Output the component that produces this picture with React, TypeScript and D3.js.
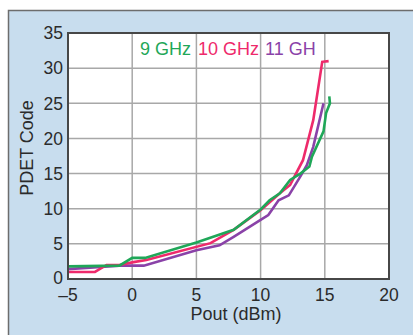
import React from "react";
import * as d3 from "d3";

const xTicks = [-5, 0, 5, 10, 15, 20];
const xTickLabels = ["–5", "0", "5", "10", "15", "20"];
const yTicks = [0, 5, 10, 15, 20, 25, 30, 35];

const series9x = [-5, -1, 0, 1, 5, 7.9, 10, 10.7, 11.5, 12.3, 13.1, 13.8, 14.0, 14.9, 15.1, 15.4, 15.35];
const series9y = [1.8, 1.9, 3, 3, 5.2, 7, 9.9, 11.2, 12.2, 14.1, 15, 16, 17.4, 21, 23.6, 25, 26];

const series10x = [-5, -2.9, -2, -1, 0.1, 1.1, 6.1, 7.9, 10, 11.5, 12.3, 13.3, 14.1, 14.8, 15.3];
const series10y = [1, 1, 2, 2, 2.4, 2.7, 5.1, 7, 9.8, 12.2, 13.4, 16.9, 22.6, 30.9, 31];

const series11x = [-5, -1, 0.9, 5, 6.8, 7.9, 10, 10.6, 11.4, 12.2, 13.1, 13.6, 14.1, 14.9];
const series11y = [1.4, 1.9, 1.9, 4.1, 4.8, 6, 8.4, 9.1, 11.2, 11.9, 14.6, 16.2, 18.8, 25];

const seriesNames = ["9 GHz", "10 GHz", "11 GH"];
const seriesColors = ["#1fa758", "#ee2a6b", "#8a42a8"];

export default function App() {
  const W = 413, H = 335;
  const left = 68, right = 389, top = 33, bottom = 279;
  const x = d3.scaleLinear().domain([-5, 20]).range([left, right]);
  const y = d3.scaleLinear().domain([0, 35]).range([bottom, top]);
  const line = d3.line<[number, number]>().x(d => x(d[0])).y(d => y(d[1]));
  const data = [
    d3.zip(series9x, series9y) as [number, number][],
    d3.zip(series10x, series10y) as [number, number][],
    d3.zip(series11x, series11y) as [number, number][],
  ];
  const font = "Arial, 'Liberation Sans', Helvetica, sans-serif";
  const order = [2, 1, 0];
  const legendX = [140, 198, 265];
  return (
    <svg width={W} height={H} style={{ position: "absolute", left: 0, top: 0, display: "block" }} fontFamily={font}>
      <rect x={0} y={0} width={W} height={H} fill="#ffffff" />
      <rect x={8.5} y={10.5} width={W} height={H} fill="#c8ddee" stroke="#6d6d6d" strokeWidth={1.5} />
      <rect x={left} y={top} width={right - left} height={bottom - top} fill="#ffffff" />
      {xTicks.slice(1, -1).map(t => (
        <line key={"gx" + t} x1={x(t)} x2={x(t)} y1={top} y2={bottom} stroke="#a8a8a8" strokeWidth={1.5} />
      ))}
      {yTicks.slice(1, -1).map(t => (
        <line key={"gy" + t} x1={left} x2={right} y1={y(t)} y2={y(t)} stroke="#a8a8a8" strokeWidth={1.5} />
      ))}
      {order.map(i => (
        <path key={"s" + i} d={line(data[i]) || ""} fill="none" stroke={seriesColors[i]} strokeWidth={2.6} strokeLinejoin="miter" />
      ))}
      <rect x={left} y={top} width={right - left} height={bottom - top} fill="none" stroke="#474747" strokeWidth={2} />
      {yTicks.map(t => (
        <text key={"yt" + t} x={63} y={y(t) - (t === 0 ? 1.5 : 0)} dy="0.36em" textAnchor="end" fontSize={17.5} fill="#2b2b2b">{t}</text>
      ))}
      {xTicks.map((t, i) => (
        <text key={"xt" + t} x={x(t)} y={301} textAnchor="middle" fontSize={17.5} fill="#2b2b2b">{xTickLabels[i]}</text>
      ))}
      <text x={236} y={320} textAnchor="middle" fontSize={18} fill="#2b2b2b">Pout (dBm)</text>
      <text transform="translate(33,148) rotate(-90)" textAnchor="middle" fontSize={18} fill="#2b2b2b">PDET Code</text>
      {seriesNames.map((n, i) => (
        <text key={"lg" + i} x={legendX[i]} y={55} fontSize={18} fill={seriesColors[i]}>{n}</text>
      ))}
    </svg>
  );
}
